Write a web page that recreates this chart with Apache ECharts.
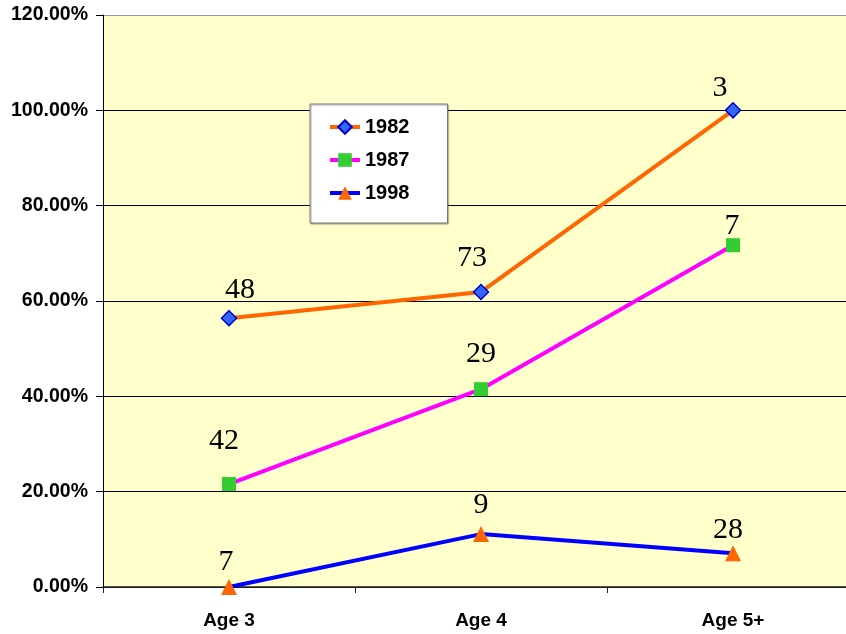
<!DOCTYPE html>
<html>
<head>
<meta charset="utf-8">
<script src="https://cdn.jsdelivr.net/npm/echarts@6/dist/echarts.min.js"></script>
<style>
html,body{margin:0;padding:0;background:#fff;overflow:hidden;width:846px;height:634px;}
/* plot runs past the right edge in the original, so the canvas is a bit wider */
#main{width:859px;height:634px;}
</style>
</head>
<body>
<div id="main"></div>
<script>
// categories and values (percent)
const ages = ['Age 3', 'Age 4', 'Age 5+'];
const pct1982 = [56.4, 61.9, 100];
const pct1987 = [21.6, 41.5, 71.7];
const pct1998 = [0, 11.1, 7.1];
// counts printed above each point
const n1982 = [48, 73, 3];
const n1987 = [42, 29, 7];
const n1998 = [7, 9, 28];
// small label nudges [dx, dy]
const nudge1982 = [[11, 0], [-9, -6], [-13, 6]];
const nudge1987 = [[-5, -16], [0, -8], [-1, 8]];
const nudge1998 = [[-3, 3], [0, -1], [-5, 5]];

const chart = echarts.init(document.getElementById('main'));

function points(vals, counts, nudges) {
  return vals.map((v, i) => ({
    value: v,
    label: { formatter: String(counts[i]), offset: nudges[i] }
  }));
}

const countLabel = {
  show: true,
  position: 'top',
  distance: 5,
  fontFamily: 'Liberation Serif, Times New Roman, serif',
  fontSize: 30,
  color: '#000'
};

const option = {
  animation: false,
  backgroundColor: '#fff',
  grid: {
    left: 103, top: 15, right: 0, bottom: 47,
    show: true, backgroundColor: '#FFFFCC', borderWidth: 0
  },
  legend: {
    orient: 'vertical',
    left: 310, top: 104,
    padding: [13, 38, 20, 18],
    itemGap: 13,
    itemWidth: 30,
    itemHeight: 17,
    backgroundColor: '#fff',
    borderColor: '#777',
    borderWidth: 1,
    shadowColor: 'rgba(0,0,0,0.35)',
    shadowOffsetX: 1, shadowOffsetY: 1, shadowBlur: 1,
    lineStyle: { width: 4 },
    textStyle: { fontFamily: 'Liberation Sans, Arial, sans-serif', fontWeight: 'bold', fontSize: 20, color: '#000' },
    data: ['1982', '1987', '1998']
  },
  xAxis: {
    type: 'category',
    data: ages,
    boundaryGap: true,
    axisLine: { lineStyle: { color: '#222', width: 1.5 } },
    axisTick: { show: true, length: 6, lineStyle: { color: '#222' } },
    axisLabel: { margin: 24, fontFamily: 'Liberation Sans, Arial, sans-serif', fontWeight: 'bold', fontSize: 19, color: '#000' },
    splitLine: { show: false }
  },
  yAxis: {
    type: 'value',
    min: 0, max: 120, interval: 20,
    axisLine: { show: true, lineStyle: { color: '#000' } },
    axisTick: { show: true, length: 7, lineStyle: { color: '#000' } },
    axisLabel: {
      margin: 15,
      fontFamily: 'Liberation Sans, Arial, sans-serif', fontWeight: 'bold', fontSize: 19.5, color: '#000',
      formatter: v => v.toFixed(2) + '%'
    },
    splitLine: { show: true, lineStyle: { color: ['#000', '#000', '#000', '#000', '#000', '#000', '#999'], width: 1 } }
  },
  series: [
    {
      name: '1982', type: 'line',
      data: points(pct1982, n1982, nudge1982),
      symbol: 'diamond', symbolSize: 15,
      lineStyle: { color: '#FF6600', width: 4 },
      itemStyle: { color: '#3366FF', borderColor: '#0000CC', borderWidth: 1.5 },
      label: countLabel, z: 3
    },
    {
      name: '1987', type: 'line',
      data: points(pct1987, n1987, nudge1987),
      symbol: 'rect', symbolSize: 14,
      lineStyle: { color: '#FF00FF', width: 4 },
      itemStyle: { color: '#33CC33', borderWidth: 0 },
      label: countLabel, z: 3
    },
    {
      name: '1998', type: 'line',
      data: points(pct1998, n1998, nudge1998),
      symbol: 'triangle', symbolSize: 16,
      lineStyle: { color: '#0000FF', width: 4 },
      itemStyle: { color: '#FF6600', borderWidth: 0 },
      label: countLabel, z: 3
    }
  ]
};

chart.setOption(option);
</script>
</body>
</html>
